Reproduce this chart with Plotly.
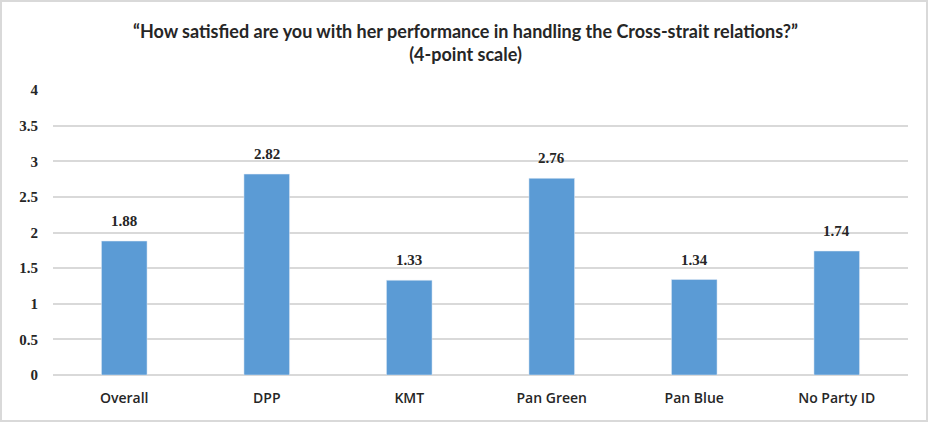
import plotly.graph_objects as go

categories = ["Overall", "DPP", "KMT", "Pan Green", "Pan Blue", "No Party ID"]
values = [1.88, 2.82, 1.33, 2.76, 1.34, 1.74]
value_labels = ["1.88", "2.82", "1.33", "2.76", "1.34", "1.74"]
y_ticks = [0, 0.5, 1, 1.5, 2, 2.5, 3, 3.5, 4]
y_tick_labels = ["0", "0.5", "1", "1.5", "2", "2.5", "3", "3.5", "4"]

W, H = 931, 423
ml, mr, mt, mb = 53, 23, 90, 48
pw, ph = W - ml - mr, H - mt - mb

fig = go.Figure(go.Bar(
    x=categories, y=values,
    marker_color="#5B9BD5",
    hoverinfo="x+y",
))

for c, v, lab in zip(categories, values, value_labels):
    fig.add_annotation(
        x=c, y=v, text=lab, showarrow=False,
        yanchor="bottom", yshift=10,
        font=dict(family="Liberation Serif", size=15, color="#262626", weight="bold"),
    )

fig.update_layout(
    width=W, height=H,
    margin=dict(l=ml, r=mr, t=mt, b=mb),
    paper_bgcolor="white", plot_bgcolor="white",
    bargap=0.68,
    showlegend=False,
    title=dict(
        text="\u201cHow satisfied are you with her performance in handling the Cross-strait relations?\u201d<br>(4-point scale)",
        x=0.5, xanchor="center", y=0.91, yanchor="top",
        font=dict(family="Lato", size=18, color="#262626", weight="bold"),
    ),
    xaxis=dict(
        tickfont=dict(family="Open Sans", size=14, color="#262626", weight=600),
        showgrid=False, ticks="", showline=False, ticklabelstandoff=13,
    ),
    yaxis=dict(
        range=[0, 4], tickvals=y_ticks, ticktext=y_tick_labels,
        tickfont=dict(family="Liberation Serif", size=15, color="#262626", weight="bold"),
        gridcolor="#d9d9d9", gridwidth=2,
        zeroline=True, zerolinecolor="#d9d9d9", zerolinewidth=2,
        ticks="", ticklen=0, showline=False, ticklabelstandoff=14,
    ),
    shapes=[dict(
        type="rect", xref="paper", yref="paper",
        x0=(1 - ml) / pw, x1=(927 - ml) / pw,
        y0=(H - mb - 421) / ph, y1=(H - mb - 1) / ph,
        line=dict(color="#d9d9d9", width=2), fillcolor="rgba(0,0,0,0)",
        layer="below",
    )],
)

fig.write_html(
    "out.html",
    config={"displayModeBar": False},
    post_script="document.body.style.margin='0';document.body.style.overflow='hidden';",
)
